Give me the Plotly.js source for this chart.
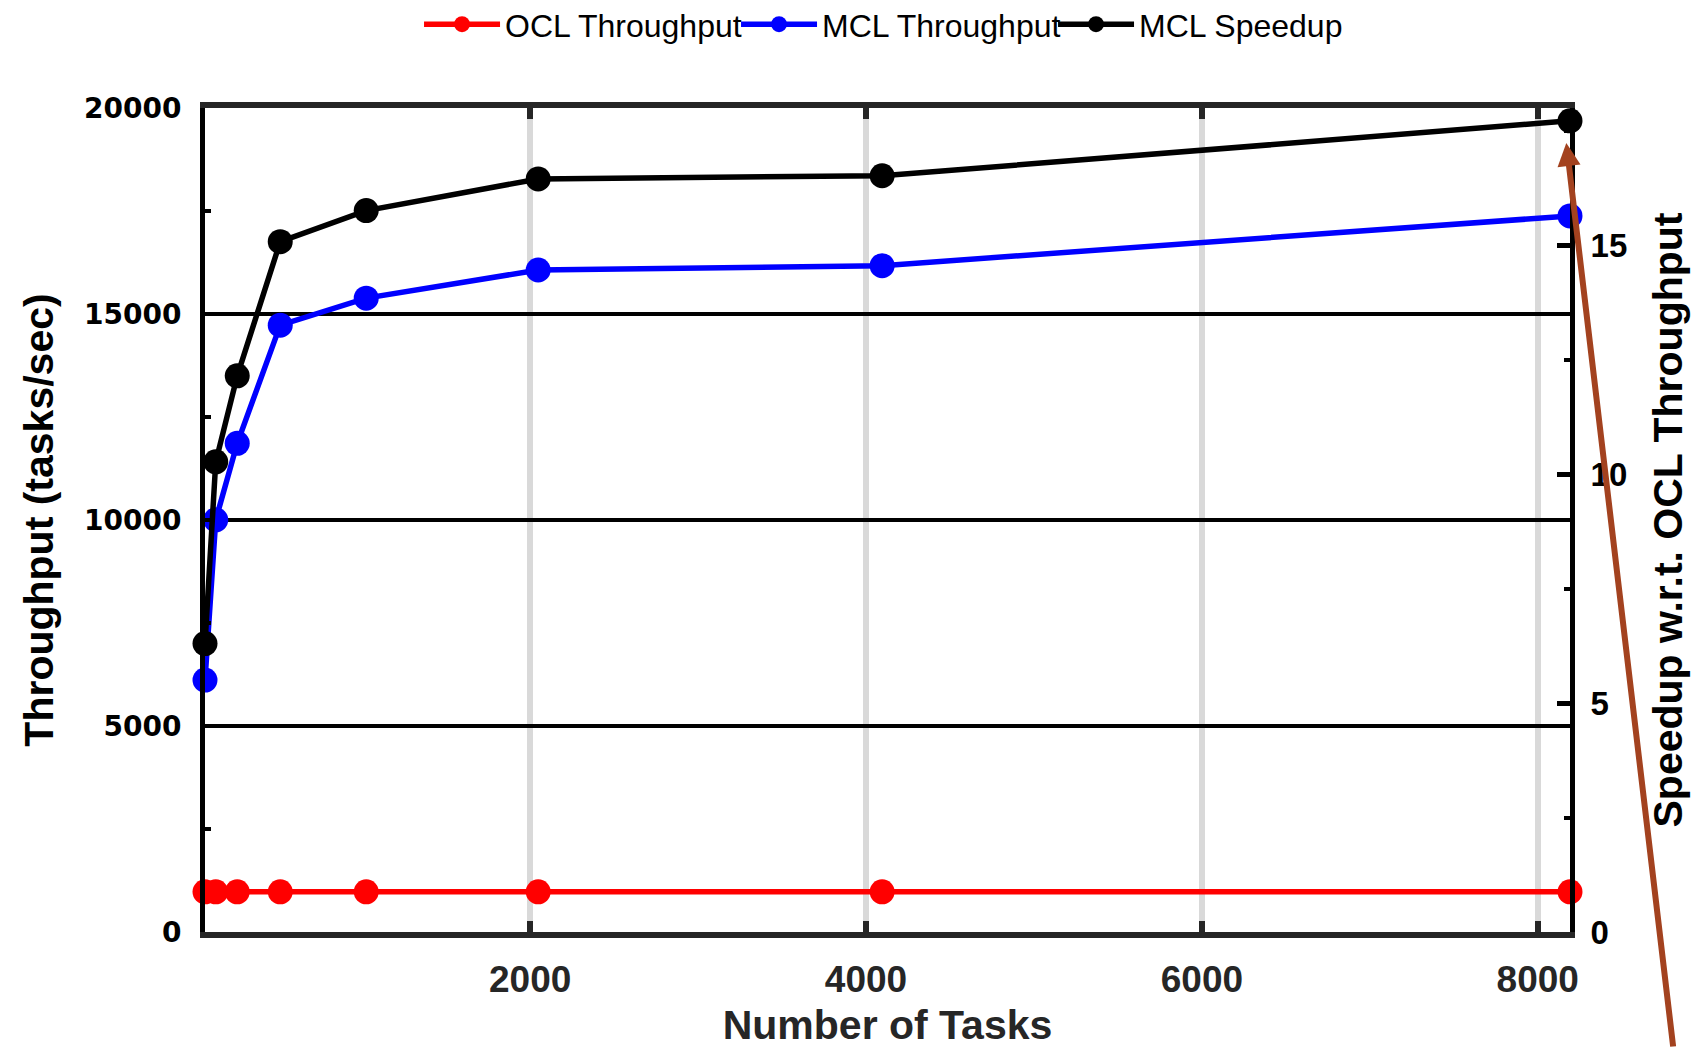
<!DOCTYPE html>
<html>
<head>
<meta charset="utf-8">
<script src="https://cdn.plot.ly/plotly-3.0.1.min.js"></script>
<style>
  html, body { margin: 0; padding: 0; background: #ffffff; }
  #chart { width: 1700px; height: 1048px; }
</style>
</head>
<body>
<div id="chart"></div>
<script>
// ---- data ----
const tasks = [64, 128, 256, 512, 1024, 2048, 4096, 8192];
const oclThroughput = [975, 975, 975, 975, 975, 975, 975, 975];
const mclThroughput = [6114, 10005, 11860, 14729, 15385, 16068, 16174, 17380];
const mclSpeedup = [6.30, 10.27, 12.15, 15.08, 15.76, 16.45, 16.52, 17.72];

const seriesNames = ['OCL Throughput', 'MCL Throughput', 'MCL Speedup'];
const seriesColors = ['#ff0000', '#0000ff', '#000000'];

const xTicks = [2000, 4000, 6000, 8000];
const yTicks = [0, 5000, 10000, 15000, 20000];
const y2Ticks = [0, 5, 10, 15];

const xTitle = 'Number of Tasks';
const yTitle = 'Throughput (tasks/sec)';
const y2Title = 'Speedup w.r.t. OCL Throughput';

const FONT = 'Liberation Sans, Arial, Helvetica, sans-serif';

function series(x, y, i, axis) {
  return {
    type: 'scatter', mode: 'lines+markers',
    x: x, y: y, name: seriesNames[i], yaxis: axis,
    line: { color: seriesColors[i], width: 5.5 },
    marker: { color: seriesColors[i], size: 25, symbol: 'circle' },
    cliponaxis: false
  };
}

const data = [
  series(tasks, oclThroughput, 0, 'y'),
  series(tasks, mclThroughput, 1, 'y'),
  series(tasks, mclSpeedup, 2, 'y2')
];

const layout = {
  width: 1700, height: 1048,
  margin: { l: 205, r: 130, t: 108, b: 116, autoexpand: false },
  paper_bgcolor: '#ffffff', plot_bgcolor: '#ffffff',
  font: { family: FONT, color: '#000000' },
  showlegend: true,
  legend: {
    orientation: 'h', x: 0.1568, xanchor: 'left', y: 1.1015, yanchor: 'middle',
    font: { family: FONT, size: 32, color: '#000000' },
    itemwidth: 76, entrywidth: 226, entrywidthmode: 'pixels',
    bgcolor: 'rgba(0,0,0,0)', borderwidth: 0
  },
  xaxis: {
    range: [64, 8192], tickvals: xTicks, tickformat: 'd',
    showgrid: true, gridcolor: '#d9d9d9', gridwidth: 6, zeroline: false,
    showline: true, linecolor: '#262626', linewidth: 6, mirror: 'ticks',
    ticks: 'inside', ticklen: 11, tickwidth: 6, tickcolor: '#262626',
    ticklabelstandoff: 10,
    tickfont: { family: FONT, size: 37, color: '#262626', weight: 'bold' },
    title: { text: xTitle, standoff: 32, font: { family: FONT, size: 41, color: '#262626', weight: 'bold' } }
  },
  yaxis: {
    range: [0, 20000], tickvals: yTicks, tickformat: 'd',
    showgrid: true, gridcolor: '#000000', gridwidth: 4.5, zeroline: false,
    showline: true, linecolor: '#000000', linewidth: 5,
    ticks: 'inside', ticklen: 10, tickwidth: 4, tickcolor: '#000000',
    minor: { dtick: 2500, ticks: 'inside', ticklen: 6, tickwidth: 4, tickcolor: '#000000', showgrid: false },
    ticklabelstandoff: 13,
    tickfont: { family: 'DejaVu Sans, sans-serif', size: 28, color: '#000000', weight: 'bold' },
    title: { text: yTitle, standoff: 19, font: { family: FONT, size: 41, color: '#000000', weight: 'bold' } }
  },
  yaxis2: {
    overlaying: 'y', side: 'right', anchor: 'x',
    range: [0, 18], tickvals: y2Ticks,
    showgrid: false, zeroline: false,
    showline: true, linecolor: '#000000', linewidth: 5,
    ticks: 'inside', ticklen: 13, tickwidth: 5, tickcolor: '#000000',
    minor: { dtick: 2.5, ticks: 'inside', ticklen: 6, tickwidth: 4, tickcolor: '#000000', showgrid: false },
    ticklabelstandoff: 9,
    tickfont: { family: FONT, size: 33, color: '#000000', weight: 'bold' },
    title: { text: y2Title, standoff: 28, font: { family: FONT, size: 41, color: '#000000', weight: 'bold' } }
  },
  annotations: [{
    x: 8170, y: 19150, xref: 'x', yref: 'y',
    ax: 107, ay: 918, text: '',
    showarrow: true, arrowhead: 2, arrowsize: 0.77, arrowwidth: 6, arrowcolor: '#a3421f'
  }]
};

Plotly.newPlot('chart', data, layout, { displayModeBar: false, staticPlot: true });
</script>
</body>
</html>
